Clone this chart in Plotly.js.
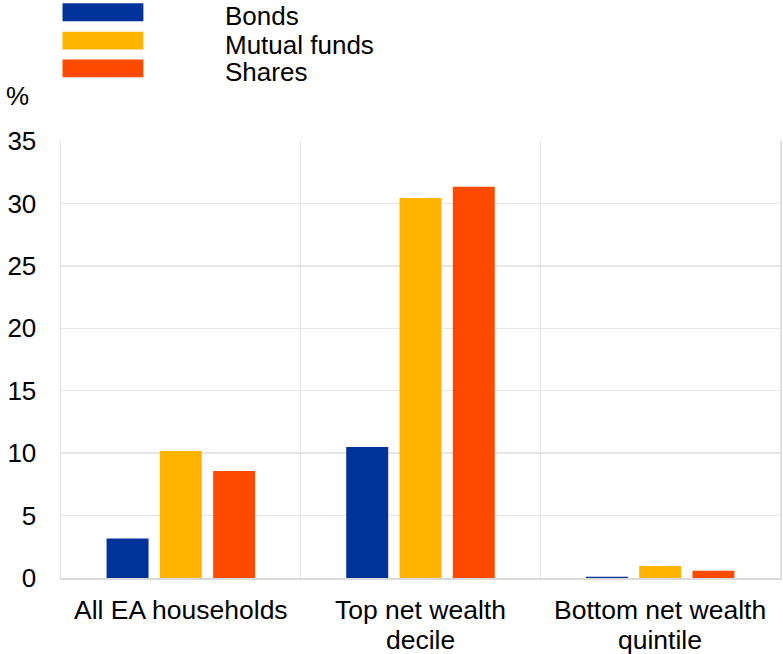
<!DOCTYPE html>
<html>
<head>
<meta charset="utf-8">
<script src="https://cdn.plot.ly/plotly-3.0.1.min.js"></script>
<style>html,body{margin:0;padding:0;background:#fff;}#chart{width:783px;height:654px;}</style>
</head>
<body>
<div id="chart"></div>
<script>
var categories = ["All EA households", "Top net wealth<br>decile", "Bottom net wealth<br>quintile"];
var seriesNames = ["Bonds", "Mutual funds", "Shares"];
var bonds = [3.17, 10.5, 0.1];
var mutualFunds = [10.18, 30.43, 0.96];
var shares = [8.56, 31.33, 0.58];
var yTicks = [0, 5, 10, 15, 20, 25, 30, 35];
var colors = ["#003299", "#FFB400", "#FF4B00"];

var W = 783, H = 654;
var margin = {l: 60.5, r: 2.5, t: 140.5, b: 76};
var plotH = H - margin.t - margin.b;
function py(p) { return (H - margin.b - p) / plotH; }
function px(p) { return (p - margin.l) / (W - margin.l - margin.r); }

var seriesValues = [bonds, mutualFunds, shares];
var traces = seriesValues.map(function (vals, i) {
  return {
    type: "bar",
    x: categories,
    y: vals,
    name: seriesNames[i],
    marker: {color: colors[i]},
    showlegend: false,
    hoverinfo: "x+y+name"
  };
});

var font = "Liberation Sans, Arial, sans-serif";
var shapes = [];
var annotations = [];
var legendCenters = [11.7, 40, 67.8];
seriesNames.forEach(function (n, i) {
  var c = legendCenters[i];
  shapes.push({type: "rect", xref: "paper", yref: "paper",
    x0: px(62), x1: px(143), y0: py(c - 9), y1: py(c + 9),
    fillcolor: colors[i], line: {width: 0}});
  annotations.push({xref: "paper", yref: "paper", x: px(223), y: py(c + 4),
    xanchor: "left", yanchor: "middle", showarrow: false, text: n,
    font: {family: font, size: 26, color: "#000"}});
});
annotations.push({xref: "paper", yref: "paper", x: px(3), y: py(95.5),
  xanchor: "left", yanchor: "middle", showarrow: false, text: "%",
  font: {family: font, size: 26, color: "#000"}});

// category labels (x axis), drawn line by line at each category's axis position
var lineCenters = [609.7, 639.7];
categories.forEach(function (cat) {
  cat.split("<br>").forEach(function (line, j) {
    annotations.push({xref: "x", yref: "paper", x: cat, y: py(lineCenters[j]),
      xanchor: "center", yanchor: "middle", showarrow: false, text: line,
      font: {family: font, size: 26.5, color: "#000"}});
  });
});

var layout = {
  width: W, height: H,
  margin: margin,
  paper_bgcolor: "#fff", plot_bgcolor: "#fff",
  font: {family: font, size: 26, color: "#000"},
  barmode: "group",
  bargap: 0.333,
  bargroupgap: 0.2125,
  showlegend: false,
  xaxis: {
    type: "category",
    tickson: "boundaries",
    showgrid: true, gridcolor: "#e3e3e3", gridwidth: 1.5,
    showline: true, linecolor: "#d9d9d9", linewidth: 1.5,
    ticks: "", showticklabels: false,
    fixedrange: true
  },
  yaxis: {
    range: [0, 35],
    tickvals: yTicks,
    ticktext: yTicks.map(String),
    showgrid: true, gridcolor: "#e6e6e6", gridwidth: 1.5,
    zeroline: false,
    showline: true, mirror: true, linecolor: "#e0e0e0", linewidth: 1.5,
    ticks: "", ticklabelstandoff: 18,
    tickfont: {family: font, size: 26, color: "#000"},
    fixedrange: true
  },
  shapes: shapes,
  annotations: annotations
};

Plotly.newPlot("chart", traces, layout, {displayModeBar: false, staticPlot: true});
</script>
</body>
</html>
